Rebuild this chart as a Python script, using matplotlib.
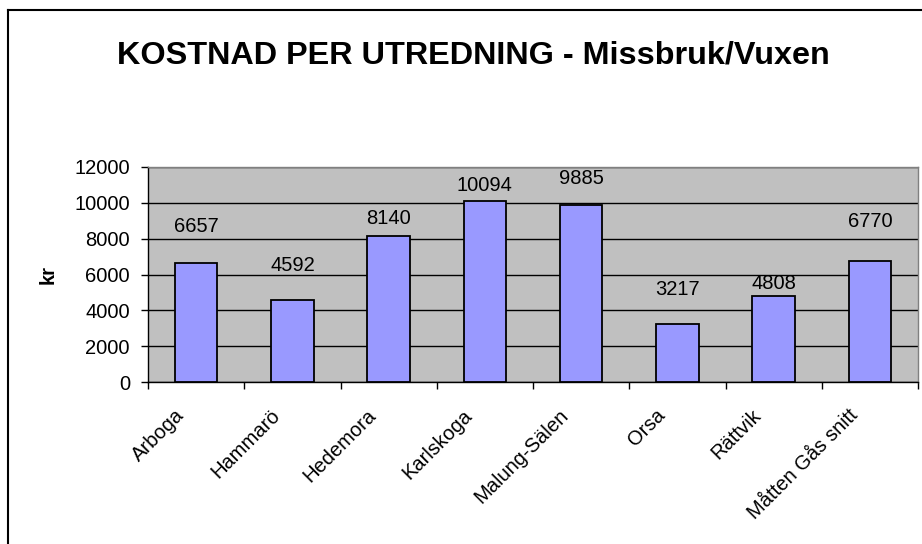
import matplotlib
matplotlib.use("Agg")
import matplotlib.pyplot as plt
from matplotlib.lines import Line2D
import numpy as np

categories = ["Arboga", "Hammarö", "Hedemora", "Karlskoga", "Malung-Sälen",
              "Orsa", "Rättvik", "Måtten Gås snitt"]
values = [6657, 4592, 8140, 10094, 9885, 3217, 4808, 6770]
yticks = [0, 2000, 4000, 6000, 8000, 10000, 12000]
# label offsets above bar tops (points), as placed in the original
label_offsets_pt = [26, 25, 13, 11, 19, 25, 9, 28]

plt.rcParams['font.family'] = ['Liberation Sans', 'DejaVu Sans']
FS = 14.5

fig = plt.figure(figsize=(9.22, 5.44), dpi=100)
ax = fig.add_axes([148/922, 1-382/544, (918-148)/922, (382-167)/544])

x = np.arange(len(categories))
ax.set_facecolor('#C0C0C0')
ax.bar(x, values, width=0.44, color='#9999FF', edgecolor='black', linewidth=1.3, zorder=3)

for xi, v, off in zip(x, values, label_offsets_pt):
    ax.annotate(str(v), (xi, v), xytext=(0, off), textcoords='offset points',
                ha='center', va='center', fontsize=FS, color='black', zorder=4)

ax.set_xlim(-0.5, len(categories) - 0.5)
ax.set_ylim(0, 12000)
ax.set_yticks(yticks)
ax.set_yticklabels([str(t) for t in yticks], fontsize=FS)
ax.yaxis.grid(True, color='black', linewidth=1.0, zorder=1)
ax.set_axisbelow(True)

# category boundary ticks
ax.set_xticks(np.arange(len(categories) + 1) - 0.5)
ax.set_xticklabels([])
ax.tick_params(axis='x', which='major', length=5, width=1, direction='out')
ax.tick_params(axis='y', length=5, width=1, direction='out', pad=8)

# category labels, rotated 45°
for xi, name in zip(x, categories):
    ax.annotate(name, (xi, 0), xycoords=('data', 'axes fraction'),
                xytext=(-11, -22), textcoords='offset points',
                rotation=45, ha='right', va='center', rotation_mode='anchor',
                fontsize=FS, annotation_clip=False)

for s in ['top', 'right']:
    ax.spines[s].set_color('#808080')
    ax.spines[s].set_linewidth(1)
ax.spines['left'].set_color('black')
ax.spines['bottom'].set_color('black')
ax.spines['left'].set_linewidth(1)
ax.spines['bottom'].set_linewidth(1)

ax.set_ylabel('kr', fontsize=FS, fontweight='bold', labelpad=12)

fig.text(473/922, 1-56/544, 'KOSTNAD PER UTREDNING - Missbruk/Vuxen',
         ha='center', va='center', fontsize=23.3, fontweight='bold')

# outer chart border (left and top edges visible)
fig.add_artist(Line2D([8/922, 8/922], [0, 1-10/544], transform=fig.transFigure,
                      color='black', linewidth=1.5))
fig.add_artist(Line2D([8/922, 1], [1-10/544, 1-10/544], transform=fig.transFigure,
                      color='black', linewidth=1.5))

fig.savefig('out.png', dpi=100)
